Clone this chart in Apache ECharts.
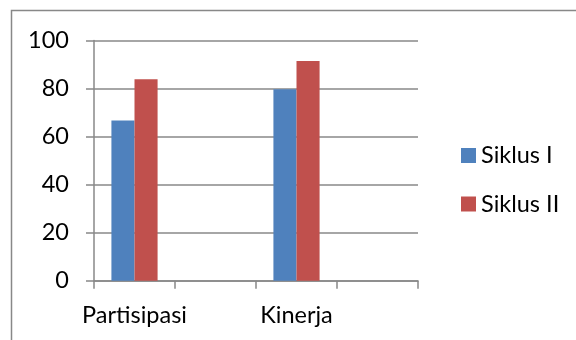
<!DOCTYPE html>
<html>
<head>
<meta charset="utf-8">
<script src="https://cdn.jsdelivr.net/npm/echarts@6/dist/echarts.min.js"></script>
<style>
html,body{margin:0;padding:0;background:#fff;}
#chart{width:576px;height:340px;}
</style>
</head>
<body>
<div id="chart"></div>
<script>
const categories = ['Partisipasi', '', 'Kinerja', ''];
const seriesNames = ['Siklus I', 'Siklus II'];
const siklus1 = [66.7, null, 79.7, null];
const siklus2 = [83.9, null, 91.5, null];
const yMin = 0, yMax = 100, yStep = 20;

const FONT = 'Lato';
const FS = 23.5;
const GRAY = '#888888';
const chart = echarts.init(document.getElementById('chart'), null, {renderer: 'canvas'});
chart.setOption({
  animation: false,
  backgroundColor: '#ffffff',
  graphic: [{
    type: 'rect',
    shape: {x: 11.5, y: 10.5, width: 700, height: 500},
    style: {fill: 'none', stroke: GRAY, lineWidth: 1.5},
    silent: true, z: 0
  }],
  grid: {left: 94, right: 158, top: 40.5, bottom: 59.3, containLabel: false},
  legend: {
    orient: 'vertical',
    left: 461, top: 143.5,
    padding: 0,
    itemWidth: 15, itemHeight: 15,
    itemGap: 24.5,
    icon: 'rect',
    textStyle: {fontFamily: FONT, fontSize: FS, color: '#000', lineHeight: 24},
    data: seriesNames
  },
  xAxis: {
    type: 'category',
    data: categories,
    boundaryGap: true,
    axisLine: {lineStyle: {color: GRAY, width: 1.5}},
    axisTick: {show: true, length: 8, interval: 0, lineStyle: {color: GRAY, width: 1.5}},
    axisLabel: {interval: 0, fontFamily: FONT, fontSize: FS, color: '#000', margin: 23}
  },
  yAxis: {
    type: 'value',
    min: yMin, max: yMax, interval: yStep,
    axisLine: {show: true, lineStyle: {color: GRAY, width: 1.5}},
    axisTick: {show: true, length: 8, lineStyle: {color: GRAY, width: 1.5}},
    splitLine: {show: true, lineStyle: {color: GRAY, width: 1.5}},
    axisLabel: {fontFamily: FONT, fontSize: FS, color: '#000', margin: 25}
  },
  series: [
    {name: seriesNames[0], type: 'bar', data: siklus1, barGap: '0%', barCategoryGap: '43%', itemStyle: {color: '#4F81BD'}},
    {name: seriesNames[1], type: 'bar', data: siklus2, barGap: '0%', barCategoryGap: '43%', itemStyle: {color: '#C0504D'}}
  ]
});
</script>
</body>
</html>
